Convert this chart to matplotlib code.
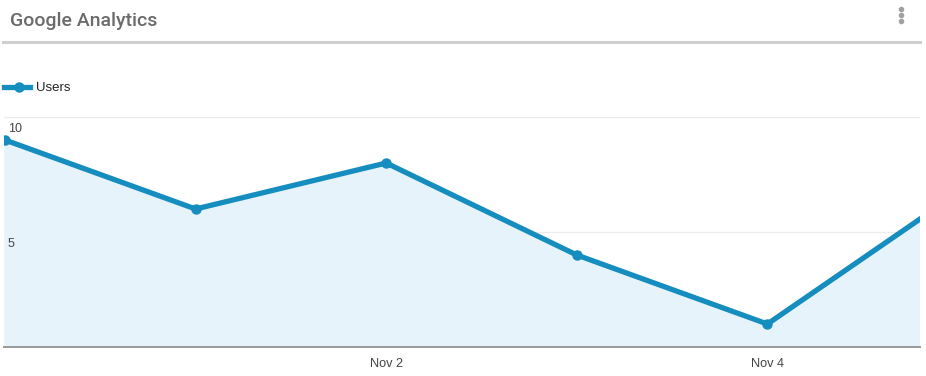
import matplotlib.pyplot as plt
from matplotlib.lines import Line2D

days = ['Oct 31', 'Nov 1', 'Nov 2', 'Nov 3', 'Nov 4', 'Nov 5']
users = [9, 6, 8, 4, 1, 6.7]
shown_ticks = ['Nov 2', 'Nov 4']
y_ticks = [5, 10]

W, H = 926, 376
fig = plt.figure(figsize=(W / 100, H / 100), dpi=100)
plt.rcParams['font.family'] = ['Liberation Sans', 'DejaVu Sans']

# plot area in pixel coords
left, right, bottom, top = 4, 920, 347, 117
ax = fig.add_axes([left / W, 1 - bottom / H, (right - left) / W, (bottom - top) / H])

x = list(range(len(days)))
px_per_day = 190.6
x0 = (left - 5) / px_per_day
x1 = (right - 5) / px_per_day

line_c = '#168dbf'
ax.fill_between(x, users, 0, color='#e6f3fa', zorder=1)
ax.plot(x, users, color=line_c, lw=3.8, marker='o', ms=6.5, zorder=3,
        solid_joinstyle='round', clip_on=True)
ax.set_xlim(x0, x1)
ax.set_ylim(0, 10)

for v in y_ticks:
    ax.axhline(v, color='#ececec', lw=0.9, zorder=0)
    ax.text(0.004, v - 0.25, str(v), transform=ax.get_yaxis_transform(),
            ha='left', va='top', fontsize=9, color='#444444', zorder=4)

ax.set_yticks([])
ax.set_xticks([days.index(d) for d in shown_ticks])
ax.set_xticklabels(shown_ticks, fontsize=9.2, color='#444444')
ax.tick_params(axis='x', length=0, pad=8)
for s in ['top', 'right', 'left']:
    ax.spines[s].set_visible(False)
ax.spines['bottom'].set_color('#999999')
ax.spines['bottom'].set_linewidth(1.4)
ax.spines['bottom'].set_zorder(5)

# header
fig.text(10 / W, 1 - 21 / H, 'Google Analytics', fontsize=14, color='#6b6b6b',
         ha='left', va='center', fontweight='medium', family=['Roboto', 'DejaVu Sans'])
fig.add_artist(Line2D([3 / W, 920 / W], [1 - 42 / H, 1 - 42 / H], color='#cfcfcf', lw=2.2))
for yy in (9, 15, 21):
    fig.add_artist(Line2D([901 / W], [1 - yy / H], marker='o', ms=3, color='#a0a0a0', lw=0))

# legend
fig.add_artist(Line2D([4 / W, 30 / W], [1 - 87 / H, 1 - 87 / H], color=line_c, lw=3.8))
fig.add_artist(Line2D([19 / W], [1 - 87 / H], marker='o', ms=6.5, color=line_c, lw=0))
fig.text(36 / W, 1 - 88 / H, 'Users', fontsize=9.5, color='#222222', ha='left', va='center')

fig.savefig('out.png', dpi=100)
